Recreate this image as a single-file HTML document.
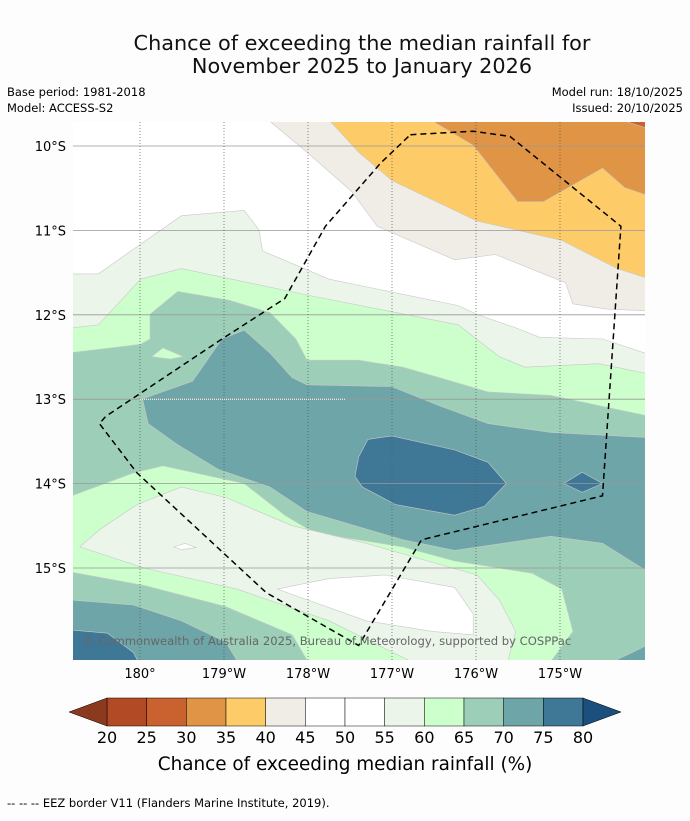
<!DOCTYPE html>
<html><head><meta charset="utf-8"><style>
body{margin:0;background:#fdfdfd;font-family:"Liberation Sans","DejaVu Sans",sans-serif;}
svg text{font-family:"DejaVu Sans","Liberation Sans",sans-serif;}
</style></head><body>
<svg id="chart" width="690" height="816" viewBox="0 0 690 816" xmlns="http://www.w3.org/2000/svg">
<rect width="690" height="816" fill="#fdfdfd"/>
<text x="362" y="50" font-size="20.8" text-anchor="middle" fill="#111">Chance of exceeding the median rainfall for</text>
<text x="362" y="73" font-size="20.8" text-anchor="middle" fill="#111">November 2025 to January 2026</text>
<text x="7" y="96" font-size="11.5">Base period: 1981-2018</text>
<text x="7" y="112" font-size="11.5">Model: ACCESS-S2</text>
<text x="683" y="96" font-size="11.5" text-anchor="end">Model run: 18/10/2025</text>
<text x="683" y="112" font-size="11.5" text-anchor="end">Issued: 20/10/2025</text>
<defs><clipPath id="mapclip"><rect x="73" y="122" width="572" height="538"/></clipPath></defs>
<g id="map" clip-path="url(#mapclip)"></g>
<g id="axes"></g>
<g id="cbar"></g>
<text x="345" y="770" font-size="18.4" text-anchor="middle">Chance of exceeding median rainfall (%)</text>
<text x="7" y="807" font-size="11.5">--  --  -- EEZ border V11 (Flanders Marine Institute, 2019).</text>
</svg>
<script>
// colour levels
const levels=[20,25,30,35,40,45,50,55,60,65,70,75,80];
const colors=["#b34a26","#c9622f","#e09445","#fdcb67","#f0ece6","#ffffff","#ffffff","#ebf5ea","#ccffcc","#9dcfb8","#6ea5a8","#3f7896"];
const underColor="#8b3a1f", overColor="#1a4f7e";
// axis ticks
const lonTicks=[0,1,2,3,4,5];
const lonLabels=["180°","179°W","178°W","177°W","176°W","175°W"];
const latTicks=[10,11,12,13,14,15];
const latLabels=["10°S","11°S","12°S","13°S","14°S","15°S"];
// contour polygons in traced grid units (gx,gy) -> converted to lon/lat below
const c4045=[[535,-10],[535,18],[640,110],[760,220],[830,320],[1040,415],[1150,400],[1340,480],[1360,540],[1450,555],[1570,560],[1570,-10]];
const c3540=[[675,-10],[780,110],[870,190],[1100,305],[1330,360],[1480,440],[1570,470],[1570,-10]];
const c3035=[[930,-10],[1090,90],[1210,250],[1280,250],[1440,155],[1500,210],[1570,235],[1570,-10]];
const c2530=[[1490,-10],[1490,18],[1570,45],[1570,-10]];
const c5560=[[-10,455],[75,455],[300,290],[470,275],[510,330],[520,390],[700,470],[1050,545],[1100,570],[1210,610],[1270,635],[1440,640],[1570,685],[1570,1570],[-10,1570]];
const c6065=[[-10,610],[75,600],[190,470],[300,440],[640,515],[1050,600],[1160,690],[1230,720],[1430,710],[1570,740],[1570,1570],[-10,1570]];
const c6570=[[-10,680],[190,655],[215,640],[215,570],[290,505],[430,530],[540,565],[610,640],[640,700],[780,700],[900,720],[1000,750],[1130,790],[1300,800],[1570,860],[1570,1570],[-10,1570]];
const c6065blob=[[220,690],[250,665],[305,690],[270,697]];
const c7075=[[195,810],[330,760],[410,640],[470,615],[540,680],[600,750],[640,770],[870,775],[1000,830],[1130,880],[1300,905],[1570,920],[1570,1305],[1440,1220],[1300,1200],[1040,1240],[900,1210],[640,1130],[540,1060],[400,1010],[290,940],[210,880]];
const c7580=[[805,925],[870,915],[1040,955],[1130,990],[1180,1050],[1120,1115],[1040,1140],[880,1110],[790,1060],[770,1030],[780,975]];
const c7580b=[[1335,1050],[1385,1018],[1440,1050],[1385,1075]];
const c6065low=[[-10,1090],[170,1020],[250,1000],[470,1050],[580,1140],[660,1190],[900,1230],[1040,1270],[1250,1305],[1330,1350],[1360,1470],[1290,1570],[650,1570],[600,1480],[420,1400],[200,1340],[-10,1300]];
const c5560low=[[25,1230],[80,1180],[180,1110],[300,1060],[420,1090],[600,1170],[800,1220],[1000,1280],[1100,1310],[1160,1380],[1205,1470],[1180,1570],[950,1570],[700,1440],[450,1350],[200,1290]];
const cWhite=[[560,1350],[700,1320],[850,1310],[1040,1345],[1090,1420],[1090,1480],[980,1470],[800,1440]];
const cWhite2=[[280,1230],[310,1220],[340,1232],[300,1238]];
const c6570low=[[-10,1300],[200,1340],[420,1400],[600,1480],[650,1570],[-10,1570]];
const c7075low=[[-10,1380],[170,1395],[300,1440],[420,1500],[460,1570],[-10,1570]];
const c7075br=[[1440,1570],[1570,1505],[1570,1570]];
const c7580low=[[-10,1465],[100,1475],[170,1530],[190,1570],[-10,1570]];
const eez=[[920,60],[1090,50],[1190,65],[1490,320],[1440,1085],[950,1210],[780,1510],[530,1360],[180,1020],[78,880],[95,860],[410,640],[580,525],[690,320],[840,140],[920,60]];

// grid units -> geographic (degrees west of 180, degrees south)
function gLon(gx){return (gx-188)/227.4;}
function gLat(gy){return 10+(gy-92)/239.6;}
// geographic -> pixel axes
function xS(lonW){return 140+84*lonW;}
function yS(latS){return 146+84.4*(latS-10);}
const NS="http://www.w3.org/2000/svg";
function mk(tag,attrs,parent){const e=document.createElementNS(NS,tag);for(const k in attrs)e.setAttribute(k,attrs[k]);parent.appendChild(e);return e;}
function pts(arr){return arr.map(p=>xS(gLon(p[0])).toFixed(1)+","+yS(gLat(p[1])).toFixed(1)).join(" ");}
function col(v){for(let i=0;i<levels.length-1;i++){if(v>=levels[i]&&v<levels[i+1])return colors[i];}return v<levels[0]?underColor:overColor;}
const map=document.getElementById('map');
mk('rect',{x:73,y:122,width:572,height:538,fill:"#ffffff"},map);
const layers=[[c4045,42],[c3540,37],[c3035,32],[c2530,27],[c5560,57],[c6065,62],[c6570,67],[c6065blob,62],[c7075,72],[c7580,77],[c7580b,77],[c6065low,62],[c5560low,57],[cWhite,52],[cWhite2,52],[c6570low,67],[c7075low,72],[c7075br,72],[c7580low,77]];
layers.forEach((L,i)=>{
  const p=mk('polygon',{points:pts(L[0]),fill:col(L[1]),stroke:"#c8c8c8","stroke-width":0.6},map);
  
  
});
latTicks.forEach(t=>{const l=mk('line',{x1:73,x2:645,y1:yS(t),y2:yS(t),stroke:"#999","stroke-width":0.8},map);
  
  });
lonTicks.forEach(t=>{const l=mk('line',{x1:xS(t),x2:xS(t),y1:122,y2:660,stroke:"#555","stroke-width":0.7,"stroke-dasharray":"1,2"},map);
  
  });
const wl=mk('line',{x1:xS(0),x2:xS(2.45),y1:yS(13),y2:yS(13),stroke:"#fff","stroke-width":1,"stroke-dasharray":"1,1"},map);


const ez=mk('polyline',{points:pts(eez),fill:"none",stroke:"#000","stroke-width":1.5,"stroke-dasharray":"6,4"},map);


const wm=mk('text',{x:83,y:645,"font-size":11.6,fill:"#666"},map);wm.textContent="© Commonwealth of Australia 2025, Bureau of Meteorology, supported by COSPPac";


const axes=document.getElementById('axes');
latTicks.forEach((t,i)=>{const e=mk('text',{x:66,y:yS(t)+5,"font-size":13,"text-anchor":"end"},axes);e.textContent=latLabels[i];
  
  });
lonTicks.forEach((t,i)=>{const e=mk('text',{x:xS(t),y:678,"font-size":13,"text-anchor":"middle"},axes);e.textContent=lonLabels[i];
  
  });
const cb=document.getElementById('cbar');
const cx0=107,cx1=583,cy0=698,cy1=726,bw=(cx1-cx0)/colors.length;
colors.forEach((c,i)=>{const r=mk('rect',{x:cx0+i*bw,y:cy0,width:bw,height:cy1-cy0,fill:c,stroke:"#000","stroke-width":0.5},cb);
  
  });
const tl=mk('polygon',{points:`${cx0},${cy0} ${cx0},${cy1} 69,${(cy0+cy1)/2}`,fill:underColor,stroke:"#000","stroke-width":0.5},cb);


const tr=mk('polygon',{points:`${cx1},${cy0} ${cx1},${cy1} 621,${(cy0+cy1)/2}`,fill:overColor,stroke:"#000","stroke-width":0.5},cb);


levels.forEach((v,i)=>{const e=mk('text',{x:cx0+i*bw,y:743,"font-size":16,"text-anchor":"middle"},cb);e.textContent=v;
  
  });
</script>
</body></html>
